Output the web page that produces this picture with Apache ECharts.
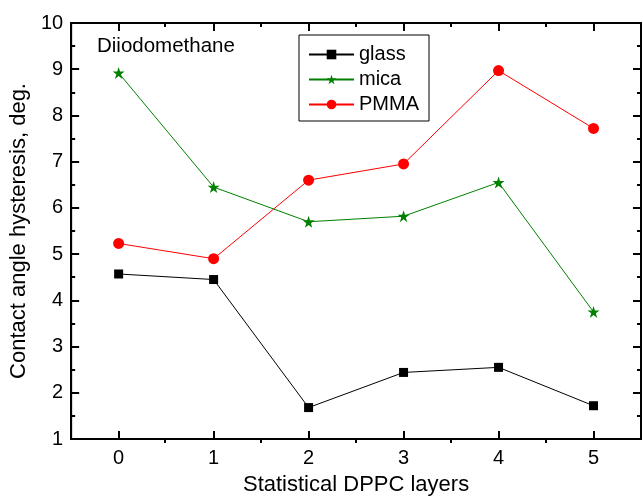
<!DOCTYPE html>
<html>
<head>
<meta charset="utf-8">
<script src="https://cdn.jsdelivr.net/npm/echarts@6/dist/echarts.min.js"></script>
<style>
  html, body { margin: 0; padding: 0; background: #fff; }
  #chart { width: 643px; height: 501px; }
</style>
</head>
<body>
<div id="chart"></div>
<script>
// Contact angle hysteresis of diiodomethane vs. number of DPPC layers
const layers = [0, 1, 2, 3, 4, 5];
const glass = [4.57, 4.45, 1.68, 2.44, 2.55, 1.72];
const mica  = [8.92, 6.45, 5.70, 5.82, 6.55, 3.75];
const pmma  = [5.23, 4.90, 6.60, 6.95, 8.97, 7.72];
const xMajor = [0, 1, 2, 3, 4, 5];
const xMinor = [0.5, 1.5, 2.5, 3.5, 4.5];

const FONT = '"Liberation Sans", Arial, Helvetica, sans-serif';
const STAR = 'path://M50,0 L61.2,34.5 L97.6,34.5 L68.2,55.9 L79.4,90.5 L50,69.1 L20.6,90.5 L31.8,55.9 L2.4,34.5 L38.8,34.5 Z';

function pairs(vals) { return layers.map((x, i) => [x, vals[i]]); }

const chart = echarts.init(document.getElementById('chart'), null, { renderer: 'canvas' });

const lineStyle = { color: '#000', width: 2 };
const tickStyle = { color: '#000', width: 2 };
const rect = { left: 70, top: 23, right: 2, bottom: 58, containLabel: false };

// one x axis per side in each grid; grid 1 overlays grid 0 and carries the half-step ticks
function xAxisFor(grid, side, values, len, withLine) {
  return {
    type: 'value', min: -0.5, max: 5.5, gridIndex: grid, position: side,
    splitLine: { show: false },
    axisLine: { show: withLine, onZero: false, lineStyle: lineStyle },
    axisTick: { show: true, inside: true, length: len, customValues: values, lineStyle: tickStyle },
    axisLabel: { show: false }
  };
}

const xBottom = xAxisFor(0, 'bottom', xMajor, 8, true);
xBottom.name = 'Statistical DPPC layers';
xBottom.nameLocation = 'middle';
xBottom.nameGap = 35;
xBottom.nameTextStyle = { fontFamily: FONT, fontSize: 22, color: '#000' };
xBottom.axisLabel = { show: true, customValues: xMajor, margin: 9, fontFamily: FONT, fontSize: 20, color: '#000' };

chart.setOption({
  animation: false,
  backgroundColor: '#fff',
  grid: [
    Object.assign({ show: true, borderColor: '#000', borderWidth: 2, backgroundColor: 'transparent' }, rect),
    Object.assign({}, rect)
  ],
  xAxis: [
    xBottom,
    xAxisFor(0, 'top', xMajor, 8, true),
    xAxisFor(1, 'bottom', xMinor, 4, false),
    xAxisFor(1, 'top', xMinor, 4, false)
  ],
  yAxis: [
    {
      type: 'value', min: 1, max: 10, interval: 1, position: 'left', gridIndex: 0,
      name: 'Contact angle hysteresis, deg.',
      nameLocation: 'middle',
      nameGap: 40,
      nameTextStyle: { fontFamily: FONT, fontSize: 22, color: '#000' },
      splitLine: { show: false },
      axisLine: { show: true, onZero: false, lineStyle: lineStyle },
      axisTick: { show: true, inside: true, length: 8, lineStyle: tickStyle },
      minorTick: { show: true, splitNumber: 2, length: 4, lineStyle: tickStyle },
      axisLabel: { margin: 8, fontFamily: FONT, fontSize: 20, color: '#000' }
    },
    {
      type: 'value', min: 1, max: 10, interval: 1, position: 'right', gridIndex: 0,
      splitLine: { show: false },
      axisLine: { show: true, onZero: false, lineStyle: lineStyle },
      axisTick: { show: true, inside: true, length: 8, lineStyle: tickStyle },
      minorTick: { show: true, splitNumber: 2, length: 4, lineStyle: tickStyle },
      axisLabel: { show: false }
    },
    {
      type: 'value', min: 1, max: 10, gridIndex: 1, show: false
    }
  ],
  legend: {
    orient: 'vertical',
    left: 299, top: 35,
    padding: [9, 10, 6, 9],
    borderColor: '#000', borderWidth: 1,
    itemWidth: 45, itemHeight: 12, itemGap: 4,
    textStyle: { fontFamily: FONT, fontSize: 20, color: '#000', lineHeight: 21 },
    data: ['glass', 'mica', 'PMMA']
  },
  graphic: [{
    type: 'text', left: 97, top: 36,
    style: { text: 'Diiodomethane', font: '20.5px ' + FONT, fill: '#000' }
  }],
  series: [
    {
      name: 'glass', type: 'line', data: pairs(glass), xAxisIndex: 0, yAxisIndex: 0,
      symbol: 'rect', symbolSize: 9,
      lineStyle: { color: '#000', width: 1 },
      itemStyle: { color: '#000' }
    },
    {
      name: 'mica', type: 'line', data: pairs(mica), xAxisIndex: 0, yAxisIndex: 0,
      symbol: STAR, symbolSize: 12,
      lineStyle: { color: '#008000', width: 1 },
      itemStyle: { color: '#008000' }
    },
    {
      name: 'PMMA', type: 'line', data: pairs(pmma), xAxisIndex: 0, yAxisIndex: 0,
      symbol: 'circle', symbolSize: 11,
      lineStyle: { color: '#ff0000', width: 1 },
      itemStyle: { color: '#ff0000' }
    }
  ]
});
</script>
</body>
</html>
